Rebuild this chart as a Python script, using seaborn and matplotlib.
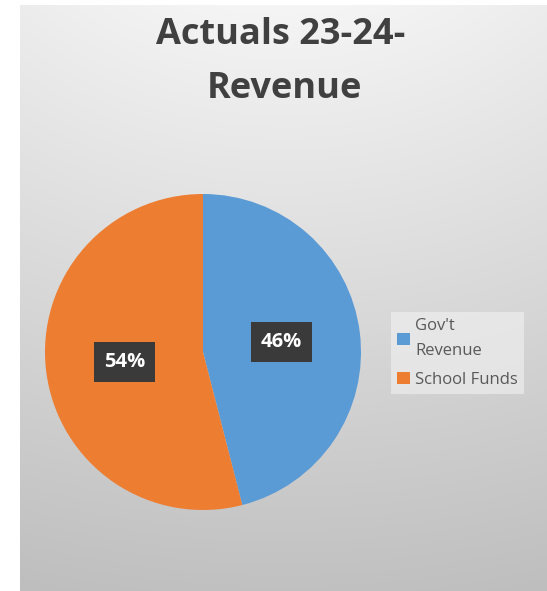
import numpy as np
import matplotlib
matplotlib.use('Agg')
import matplotlib.pyplot as plt
import seaborn as sns

# Data
categories = ["Gov't\nRevenue", "School Funds"]
shares = [46, 54]
slice_colors = ['#5B9BD5', '#ED7D31']

sns.set_theme(style='white')
plt.rcParams['font.family'] = ['Open Sans', 'DejaVu Sans']

W, H = 547, 591
fig = plt.figure(figsize=(W / 100, H / 100), dpi=100)
fig.patch.set_facecolor('white')

# Chart area background: radial gradient, light at top, grey at bottom
bg = fig.add_axes([20 / W, 0, (W - 20) / W, (H - 5) / H])
ny, nx = 400, 400
yy, xx = np.mgrid[0:ny, 0:nx]
cx, cy = nx * 0.5, -ny * 0.35
r = np.hypot((xx - cx) * 0.75, yy - cy)
r = (r - r.min()) / (r.max() - r.min())
light, dark = 0.96, 0.745
grad = light - (light - dark) * r
bg.imshow(np.dstack([grad, grad, grad]), aspect='auto', extent=[0, 1, 1, 0], interpolation='bilinear')
bg.set_xlim(0, 1)
bg.set_ylim(1, 0)
bg.axis('off')

# Pie
R = 158
cxp, cyp = 203, H - 352
ax = fig.add_axes([(cxp - R) / W, (cyp - R) / H, 2 * R / W, 2 * R / H])
wedges, texts, autotexts = ax.pie(
    shares, colors=slice_colors, startangle=90, counterclock=False,
    autopct='%d%%', pctdistance=0.5, radius=1.0,
    wedgeprops=dict(linewidth=0),
    textprops=dict(color='white', fontsize=14.5, fontweight='bold'))
for t in autotexts:
    t.set_bbox(dict(boxstyle='square,pad=0.5', facecolor='#3a3a3a', edgecolor='none'))
ax.set_xlim(-1, 1)
ax.set_ylim(-1, 1)
ax.set_aspect('equal')
ax.axis('off')

fig.text(281 / W, 1 - 35 / H, "Actuals 23-24-", ha='center', va='center',
         fontsize=26, fontweight='bold', color='#404040')
fig.text(284 / W, 1 - 89 / H, "Revenue", ha='center', va='center',
         fontsize=26, fontweight='bold', color='#404040')

leg = fig.legend(wedges, categories, loc='center left',
                 bbox_to_anchor=(383 / W, 1 - 353 / H),
                 frameon=True, fancybox=False, fontsize=12,
                 handlelength=0.8, handleheight=0.8, handletextpad=0.3,
                 labelspacing=0.75, borderpad=0.35)
leg.get_frame().set_facecolor('#f2f2f2')
leg.get_frame().set_alpha(0.6)
leg.get_frame().set_edgecolor('none')
for t in leg.get_texts():
    t.set_color('#595959')
    t.set_linespacing(1.75)

fig.savefig('out.png', dpi=100)
